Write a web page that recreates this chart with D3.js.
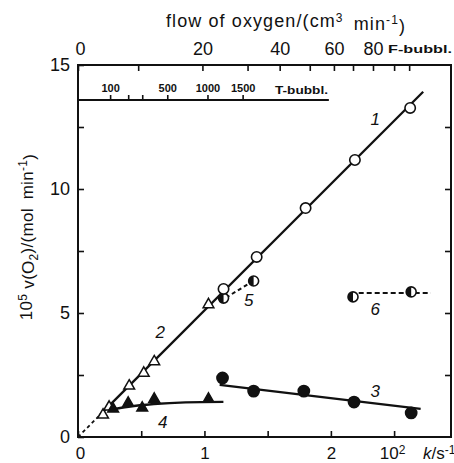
<!DOCTYPE html>
<html>
<head>
<meta charset="utf-8">
<script src="https://cdn.jsdelivr.net/npm/d3@7"></script>
<style>
  html, body { margin: 0; padding: 0; background: #fff; }
  svg { display: block; }
  text { font-family: "Liberation Sans", Arial, sans-serif; fill: #111; }
</style>
</head>
<body>
<svg id="chart" width="454" height="463"></svg>
<script>
// ---- data (k in s^-1 on the bottom scale, v in 10^-5 mol/min) ----
const s1K = [1.151, 1.413, 1.80, 2.19, 2.627];
const s1V = [5.97, 7.26, 9.23, 11.17, 13.27];

const s2K = [0.198, 0.246, 0.405, 0.52, 0.603, 1.032];
const s2V = [0.93, 1.25, 2.10, 2.62, 3.08, 5.38];

const s3K = [1.143, 1.389, 1.786, 2.183, 2.635];
const s3V = [2.38, 1.85, 1.85, 1.41, 0.97];

const s4K = [0.278, 0.397, 0.508, 0.603, 1.032];
const s4V = [1.17, 1.41, 1.21, 1.57, 1.57];

const s5K = [1.151, 1.389];
const s5V = [5.60, 6.29];

const s6K = [2.175, 2.635];
const s6V = [5.65, 5.85];

// fitted curves
const fit12K = [0.17, 2.73];
const fit12V = [0.87, 13.92];
const fit0K = [0, 0.17];
const fit0V = [0, 0.87];
const fit3K = [1.12, 2.71];
const fit3V = [2.10, 1.13];
const fit4K = [0.24, 0.40, 0.60, 0.85, 1.15];
const fit4V = [1.08, 1.22, 1.33, 1.40, 1.42];
const fit5K = [1.17, 1.38];
const fit5V = [5.62, 6.27];
const fit6K = [2.22, 2.79];
const fit6V = [5.81, 5.81];

// axis ticks
const yTicks = [0, 2.5, 5, 7.5, 10, 12.5, 15];
const xTicks = [0, 0.5, 1, 1.5, 2, 2.5];
const xTickLabels = ["0", "", "1", "", "2", "10²"];
// flow of oxygen (F-bubbler) and where it falls on the k scale
const flowTicks = [0, 10, 20, 30, 40, 50, 60, 70, 80, 90, 100];
const flowAtK = [0, 0.476, 0.984, 1.341, 1.595, 1.833, 2.024, 2.175, 2.333, 2.5, 2.619];
const flowLabelled = [0, 20, 40, 60, 80];
// T-bubbler scale
const tTicks = [100, 200, 300, 500, 1000, 1500];
const tAtK = [0.254, 0.397, 0.508, 0.706, 1.024, 1.302];
const tLabelled = [100, 500, 1000, 1500];
const tLineEndK = 1.984;

// curve labels
const curveNames = ["1", "2", "3", "4", "5", "6"];
const curveNameK = [2.35, 0.65, 2.35, 0.67, 1.35, 2.35];
const curveNameV = [12.6, 4.0, 1.6, 0.35, 5.3, 4.9];

// ---- drawing ----
const svg = d3.select("#chart");
const x = d3.scaleLinear().domain([0, 2.95]).range([78, 451]);
const y = d3.scaleLinear().domain([0, 15]).range([437, 65]);
const zip = (a, b) => a.map((v, i) => [v, b[i]]);
const line = d3.line().x(d => x(d[0])).y(d => y(d[1]));

// frame
svg.append("rect")
  .attr("x", x(0)).attr("y", y(15))
  .attr("width", x(2.95) - x(0)).attr("height", y(0) - y(15))
  .attr("fill", "none").attr("stroke", "#111").attr("stroke-width", 2);

function styleAxis(g, fontSize) {
  g.select(".domain").remove();
  g.selectAll(".tick line").attr("stroke", "#111").attr("stroke-width", 1.6);
  g.selectAll(".tick text").attr("font-size", fontSize).attr("fill", "#111")
    .attr("font-family", "Liberation Sans, Arial, sans-serif");
}

// left axis
svg.append("g").attr("transform", `translate(${x(0)},0)`)
  .call(d3.axisLeft(y).tickValues(yTicks).tickSize(-6).tickPadding(8)
    .tickFormat(d => d % 5 === 0 ? d : ""))
  .call(g => styleAxis(g, 18));

// right axis (ticks only)
svg.append("g").attr("transform", `translate(${x(2.95)},0)`)
  .call(d3.axisRight(y).tickValues(yTicks.slice(1, -1)).tickSize(-6).tickFormat(""))
  .call(g => styleAxis(g, 18));

// bottom axis
svg.append("g").attr("transform", `translate(0,${y(0)})`)
  .call(d3.axisBottom(x).tickValues(xTicks).tickSize(-6).tickPadding(10)
    .tickFormat((d, i) => xTickLabels[i]))
  .call(g => styleAxis(g, 17))
  .call(g => g.selectAll(".tick text").filter((d, i) => i === 0).attr("dx", 2))
  .call(g => {
    const t = g.selectAll(".tick text").filter((d, i) => xTickLabels[i] === "10²");
    t.text("10").append("tspan").attr("dy", "-0.45em").attr("font-size", 12).text("2");
    t.attr("dx", -2);
  });
svg.append("text").attr("x", 423).attr("y", 459).attr("font-size", 17)
  .call(t => {
    t.append("tspan").attr("font-style", "italic").text("k");
    t.append("tspan").text("/s");
    t.append("tspan").attr("dy", "-0.45em").attr("font-size", 12).text("-1");
  });

// top axis: flow of oxygen
const flowScale = d3.scaleLinear().domain(flowTicks).range(flowAtK.map(k => x(k)));
svg.append("g").attr("transform", `translate(0,${y(15)})`)
  .call(d3.axisTop(flowScale).tickValues(flowTicks).tickSize(-6).tickPadding(10)
    .tickFormat(d => flowLabelled.includes(d) ? d : ""))
  .call(g => styleAxis(g, 18))
  .call(g => g.selectAll(".tick text").filter(d => d === 0).attr("dx", 2));
svg.append("text").attr("x", 388).attr("y", 53).attr("font-size", 11)
  .attr("font-weight", "bold").attr("textLength", 64).attr("lengthAdjust", "spacingAndGlyphs")
  .text("F-bubbl.");
svg.append("text").attr("x", 286).attr("y", 27).attr("font-size", 18)
  .attr("letter-spacing", 1.1).attr("text-anchor", "middle")
  .call(t => {
    t.append("tspan").text("flow of oxygen/(cm");
    t.append("tspan").attr("dy", "-0.45em").attr("font-size", 12).text("3");
    t.append("tspan").attr("dy", "0.45em").text("\u2002min");
    t.append("tspan").attr("dy", "-0.45em").attr("font-size", 12).text("-1");
    t.append("tspan").attr("dy", "0.45em").text(")");
  });

// inner T-bubbler scale
const tY = 100;
svg.append("line").attr("x1", x(0)).attr("x2", x(tLineEndK))
  .attr("y1", tY).attr("y2", tY).attr("stroke", "#111").attr("stroke-width", 1.8);
const tScale = d3.scaleLinear().domain(tTicks).range(tAtK.map(k => x(k)));
svg.append("g").attr("transform", `translate(0,${tY})`)
  .call(d3.axisTop(tScale).tickValues(tTicks).tickSize(5).tickPadding(3)
    .tickFormat(d => tLabelled.includes(d) ? d : ""))
  .call(g => styleAxis(g, 11))
  .call(g => g.selectAll(".tick text").attr("font-weight", "bold"));
svg.append("text").attr("x", 275).attr("y", 94).attr("font-size", 11)
  .attr("font-weight", "bold").attr("textLength", 53).attr("lengthAdjust", "spacingAndGlyphs")
  .text("T-bubbl.");

// y title
svg.append("text")
  .attr("transform", `translate(32,237) rotate(-90)`)
  .attr("text-anchor", "middle").attr("font-size", 17).attr("letter-spacing", 0.3)
  .call(t => {
    t.append("tspan").text("10");
    t.append("tspan").attr("dy", "-0.45em").attr("font-size", 12).text("5");
    t.append("tspan").attr("dy", "0.45em").text(" v(O");
    t.append("tspan").attr("dy", "0.3em").attr("font-size", 12).text("2");
    t.append("tspan").attr("dy", "-0.3em").text(")/(mol\u2002min");
    t.append("tspan").attr("dy", "-0.45em").attr("font-size", 12).text("-1");
    t.append("tspan").attr("dy", "0.45em").text(")");
  });

// fitted lines
const lw = 2.3;
svg.append("path").attr("d", line(zip(fit0K, fit0V))).attr("fill", "none")
  .attr("stroke", "#111").attr("stroke-width", 1.8).attr("stroke-dasharray", "3.5,3");
svg.append("path").attr("d", line(zip(fit12K, fit12V))).attr("fill", "none")
  .attr("stroke", "#111").attr("stroke-width", lw);
svg.append("path").attr("d", line(zip(fit3K, fit3V))).attr("fill", "none")
  .attr("stroke", "#111").attr("stroke-width", lw);
svg.append("path").attr("d", line.curve(d3.curveMonotoneX)(zip(fit4K, fit4V))).attr("fill", "none")
  .attr("stroke", "#111").attr("stroke-width", lw);
line.curve(d3.curveLinear);
svg.append("path").attr("d", line(zip(fit5K, fit5V))).attr("fill", "none")
  .attr("stroke", "#111").attr("stroke-width", 2).attr("stroke-dasharray", "4,3");
svg.append("path").attr("d", line(zip(fit6K, fit6V))).attr("fill", "none")
  .attr("stroke", "#111").attr("stroke-width", 2).attr("stroke-dasharray", "5,3");

// markers
const tri = d3.symbol().type(d3.symbolTriangle).size(50);
function points(K, V, kind) {
  const g = svg.append("g");
  const d = zip(K, V);
  if (kind === "openCircle" || kind === "filledCircle") {
    g.selectAll("circle").data(d).join("circle")
      .attr("cx", p => x(p[0])).attr("cy", p => y(p[1]))
      .attr("r", kind === "openCircle" ? 5.2 : 5.6)
      .attr("fill", kind === "openCircle" ? "#fff" : "#111")
      .attr("stroke", "#111").attr("stroke-width", 1.6);
  } else if (kind === "openTri" || kind === "filledTri") {
    g.selectAll("path").data(d).join("path")
      .attr("d", tri)
      .attr("transform", p => `translate(${x(p[0])},${y(p[1]) + 1})`)
      .attr("fill", kind === "openTri" ? "#fff" : "#111")
      .attr("stroke", "#111").attr("stroke-width", 1.5);
  } else if (kind === "half") {
    const half = d3.arc().innerRadius(0).outerRadius(5).startAngle(Math.PI).endAngle(2 * Math.PI);
    const m = g.selectAll("g").data(d).join("g")
      .attr("transform", p => `translate(${x(p[0])},${y(p[1])})`);
    m.append("circle").attr("r", 5).attr("fill", "#fff").attr("stroke", "#111").attr("stroke-width", 1.6);
    m.append("path").attr("d", half()).attr("fill", "#111");
  }
}
points(s2K, s2V, "openTri");
points(s4K, s4V, "filledTri");
points(s3K, s3V, "filledCircle");
points(s5K, s5V, "half");
points(s6K, s6V, "half");
points(s1K, s1V, "openCircle");

// curve numbers
svg.append("g").selectAll("text").data(curveNames).join("text")
  .attr("x", (d, i) => x(curveNameK[i])).attr("y", (d, i) => y(curveNameV[i]))
  .attr("font-size", 17).attr("font-style", "italic").attr("text-anchor", "middle")
  .text(d => d);
</script>
</body>
</html>
